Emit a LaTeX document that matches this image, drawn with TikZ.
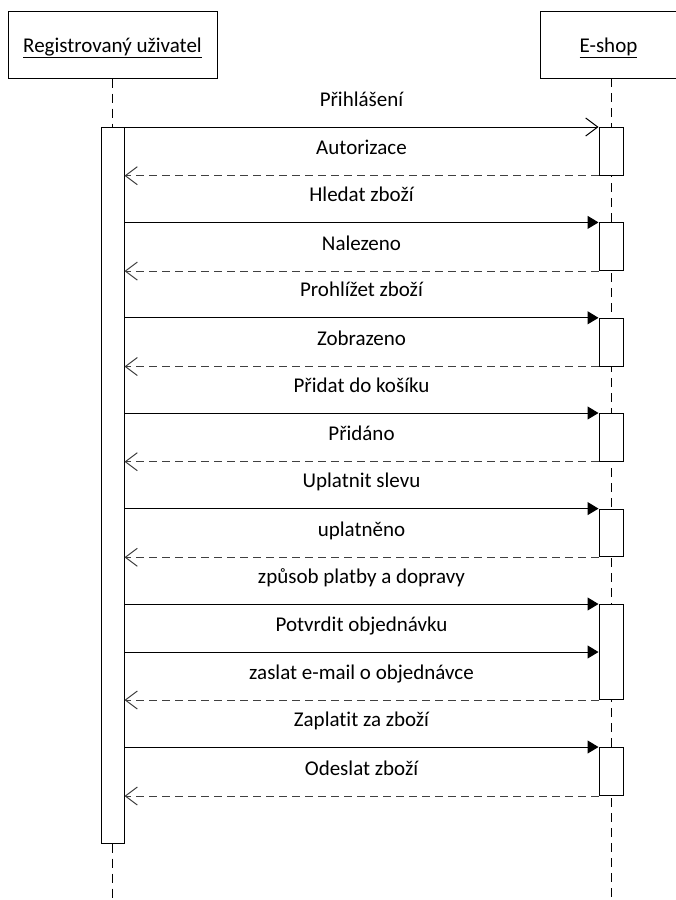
\documentclass[tikz,border=0pt]{standalone}
\usepackage{fontspec}
\setmainfont{Carlito}[Ligatures=CommonOff]
\usetikzlibrary{arrows.meta}

\tikzset{
  actorbox/.style={draw, line width=1pt, inner sep=0pt, font=\fontsize{21}{25}\selectfont, text height=15pt, text depth=0pt},
  lifeline/.style={line width=1pt, dash pattern=on 9pt off 6pt},
  actbar/.style={draw, fill=white, line width=1pt, minimum width=24pt, inner sep=0pt, anchor=north},
  firstmsg/.style={line width=1pt, -{Straight Barb[length=12pt,width=18pt]}},
  callmsg/.style={line width=1pt, -{Triangle[length=11pt,width=13pt]}},
  replymsg/.style={line width=1pt, draw=black!75, dash pattern=on 8pt off 5pt, -{Straight Barb[length=12pt,width=18pt]}},
  msglabel/.style={font=\fontsize{21}{25}\selectfont, anchor=base, yshift=21pt, inner sep=0pt}
}

\begin{document}
\begin{tikzpicture}[x=1pt, y=-1pt]
    \useasboundingbox (0,0) rectangle (676,900);

    % actors
    \node[actorbox, minimum width=209, minimum height=67] (user) at (112.5,44.5) {\underline{Registrovaný uživatel}};
    \node[actorbox, minimum width=137, minimum height=67] (shop) at (608.5,44.5) {\underline{E-shop}};

    % lifelines
    \coordinate (userend) at (112,900);
    \coordinate (shoptop) at (611,78);
    \coordinate (shopend) at (611,900);
    \draw[lifeline] (user.south -| userend) -- (userend);
    \draw[lifeline] (shoptop) -- (shopend);

    % activation bars
    \node[actbar, minimum width=23, minimum height=716] (ubar) at (112.5,127) {};
    \foreach \n/\t/\h in {1/127/47.7, 2/222.4/47.7, 3/317.8/47.7, 4/413/47.7, 5/508.6/47.7, 6/604/95, 7/747/48}
        {\node[actbar, minimum height=\h] (bar\n) at (611,\t) {};}

    % messages
    \draw[firstmsg] (bar1.north west -| ubar.east) -- node[msglabel] {Přihlášení} (bar1.north west);
    \foreach \n/\txt in {2/Hledat zboží, 3/Prohlížet zboží, 4/Přidat do košíku, 5/Uplatnit slevu, 6/způsob platby a dopravy, 7/Zaplatit za zboží}
        {\draw[callmsg] (bar\n.north west -| ubar.east) -- node[msglabel] {\txt} (bar\n.north west);}
    \draw[callmsg] (bar6.west -| ubar.east) -- node[msglabel] {Potvrdit objednávku} (bar6.west);
    \foreach \n/\txt in {1/Autorizace, 2/Nalezeno, 3/Zobrazeno, 4/Přidáno, 5/uplatněno, 6/zaslat e-mail o objednávce, 7/Odeslat zboží}
        {\draw[replymsg] (bar\n.south west) -- node[msglabel] {\txt} (bar\n.south west -| ubar.east);}
\end{tikzpicture}
\end{document}
